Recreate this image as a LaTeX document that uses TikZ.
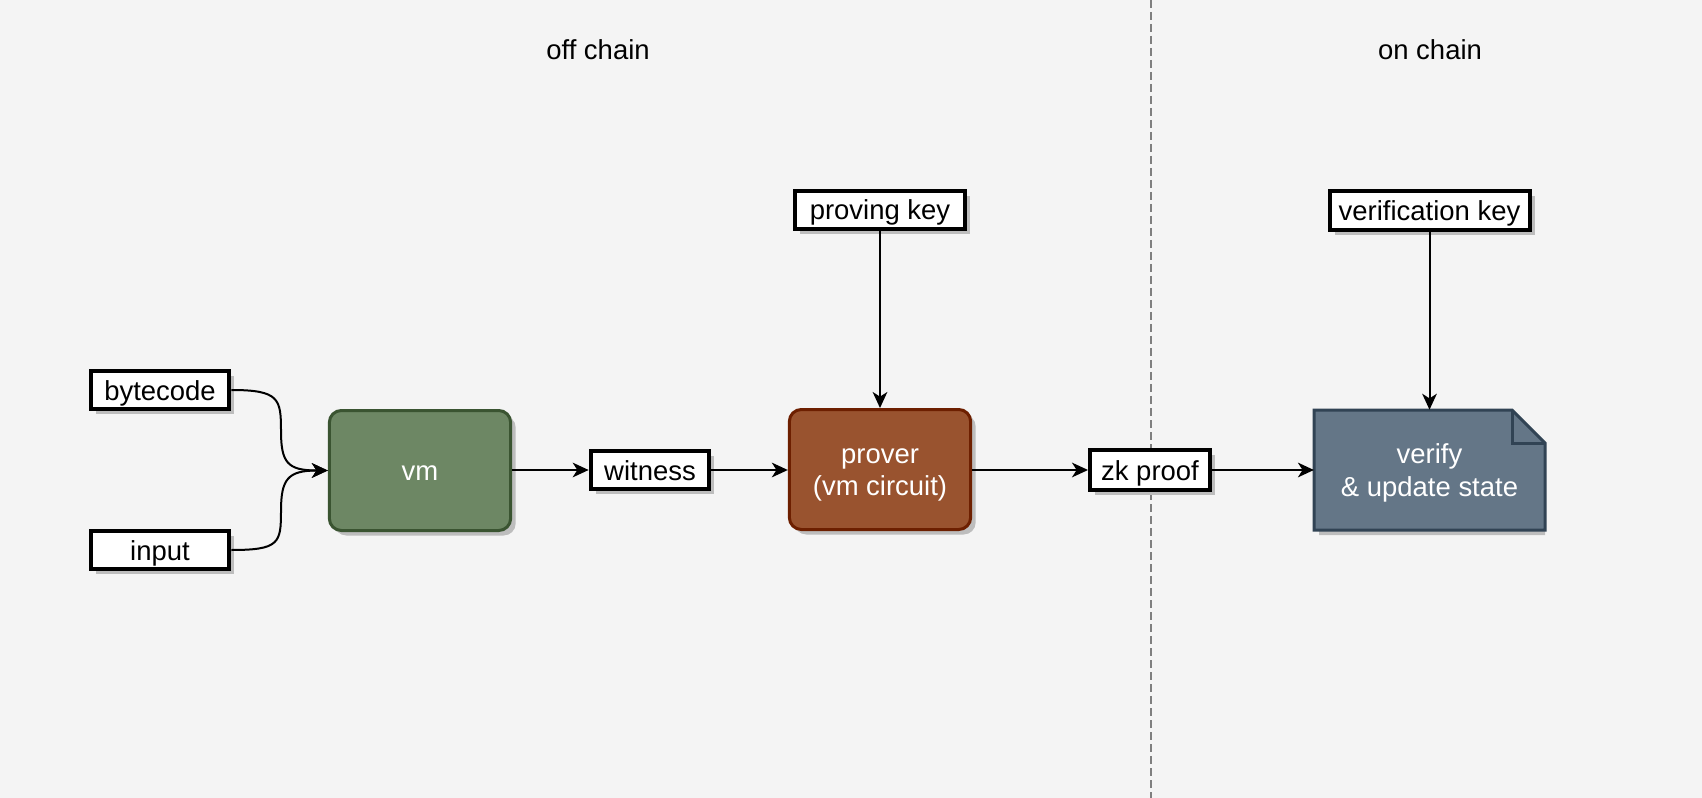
\documentclass[tikz,border=0pt]{standalone}
\usepackage{fontspec}
\setmainfont{Liberation Sans}
\usetikzlibrary{arrows.meta,calc,shadows}
\definecolor{bgc}{HTML}{F4F4F4}
\definecolor{shc}{HTML}{BDBDBD}
\definecolor{vmfill}{HTML}{6D8764}
\definecolor{vmline}{HTML}{3A5431}
\definecolor{prfill}{HTML}{99532F}
\definecolor{prline}{HTML}{6D1F00}
\definecolor{vffill}{HTML}{647687}
\definecolor{vfline}{HTML}{314354}
\definecolor{dashc}{HTML}{7F7F7F}
\newcommand{\topstrut}{\rule{0pt}{19.5pt}}
\begin{document}
\begin{tikzpicture}[x=0.75pt,y=-0.75pt,
  txt/.style={font=\fontsize{20.6pt}{24.5pt}\selectfont, align=center},
  oneline/.style={text height=17pt, text depth=2pt},
  shd/.style={drop shadow={shadow xshift=3.75pt, shadow yshift=-3.75pt, fill=shc, opacity=1}},
  lbl/.style={txt, oneline, draw=black, fill=white, line width=3pt, inner sep=0pt, shd},
  mainbox/.style={txt, text=white, line width=2.25pt, rounded corners=9pt, inner sep=0pt, shd,
    minimum width=136pt, minimum height=90pt},
  arr/.style={-{Stealth[length=12pt,width=11pt,inset=3.5pt]}, line width=1.5pt},
  divider/.style={draw=dashc, line width=1.1pt, dash pattern=on 6pt off 3pt}]
% background
\fill[bgc] (0,0) rectangle (1702,798);
\useasboundingbox (0,0) rectangle (1702,798);
% divider
\coordinate (dtop) at (1151,0);
\coordinate (dbot) at (1151,798);
\draw[divider] (dtop) -- (dbot);
% headings
\node[txt] (off) at (598,50) {off chain};
\node[txt] (on) at (1430,50) {on chain};
% label boxes
\node[lbl, minimum width=104pt, minimum height=28.5pt] (bc) at (160,390) {bytecode};
\node[lbl, minimum width=104pt, minimum height=29pt] (inp) at (160,550) {input};
\node[lbl, minimum width=89pt, minimum height=29pt] (wit) at (650,470) {witness};
\node[lbl, minimum width=127pt, minimum height=29pt] (pk) at (880,210) {proving key};
\node[lbl, minimum width=90pt, minimum height=30pt] (zk) at (1150,470) {zk proof};
\node[lbl, minimum width=150pt, minimum height=29.5pt] (vk) at (1429.5,210.5) {verification key};
% main boxes
\node[mainbox, oneline, draw=vmline, fill=vmfill] (vm) at (420,470.5) {vm};
\node[mainbox, draw=prline, fill=prfill] (pr) at (880,469.5) {\topstrut prover\\(vm circuit)};
% verify note
\fill[shc] (1319,414) -- (1512,414) -- (1545,447) -- (1545,535) -- (1319,535) -- cycle;
\filldraw[fill=vffill, draw=vfline, line width=2.25pt, line join=miter]
  (1314,410) -- (1512,410) -- (1545,443) -- (1545,530) -- (1314,530) -- cycle;
\draw[vfline, line width=2.25pt] (1512,410) -- (1512,443) -- (1545,443);
\node[txt, text=white, minimum width=173pt, minimum height=90pt, inner sep=0pt] (vf) at (1429.5,470) {\topstrut verify\\\& update state};
% connectors
\draw[arr] (bc.east) .. controls +(48,0) and +(0,-32) .. (281,431) .. controls +(0,32) and +(-40,0) .. (vm.west);
\draw[arr] (inp.east) .. controls +(48,0) and +(0,32) .. (281,511) .. controls +(0,-32) and +(-40,0) .. (vm.west);
\draw[arr] (vm.east |- wit.west) -- (wit.west);
\draw[arr] (wit.east) -- (pr.west |- wit.east);
\draw[arr] (pr.east |- zk.west) -- (zk.west);
\draw[arr] (zk.east) -- (vf.west |- zk.east);
\draw[arr] (pk.south) -- (pr.north);
\draw[arr] (vk.south) -- (vf.north);
\end{tikzpicture}
\end{document}
